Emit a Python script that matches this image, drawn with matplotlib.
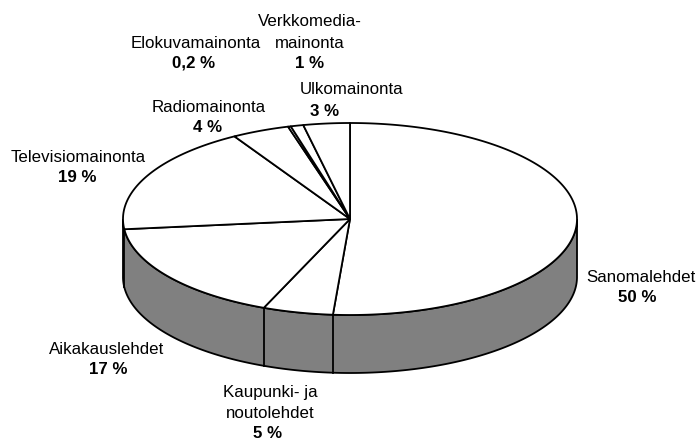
import numpy as np
import matplotlib
matplotlib.use("Agg")
import matplotlib.pyplot as plt
from matplotlib.patches import Polygon

# Data (shares; label text as printed)
categories = ["Sanomalehdet", "Kaupunki- ja\nnoutolehdet", "Aikakauslehdet",
              "Televisiomainonta", "Radiomainonta", "Elokuvamainonta",
              "Verkkomedia-\nmainonta", "Ulkomainonta"]
shares = [51.2, 5.0, 17.1, 18.2, 4.1, 0.2, 0.9, 3.3]
pct_text = ["50 %", "5 %", "17 %", "19 %", "4 %", "0,2 %", "1 %", "3 %"]

# label anchor positions (pixel coordinates of label centre, first line)
label_pos = [(641, 277), (270, 393), (107, 350), (78, 157), (209, 108),
             (196, 43), (310, 22), (352, 90)]
pct_pos = [(637, 297), (268, 434), (108, 370), (77, 177), (208, 128),
           (194, 63), (310, 63), (325, 111)]
line_step = 21

W, H = 696, 440
fig = plt.figure(figsize=(W / 100, H / 100), dpi=100)
ax = fig.add_axes([0, 0, 1, 1])
ax.set_xlim(0, W)
ax.set_ylim(H, 0)
ax.axis("off")

cx, cy, rx, ry, depth = 350, 219, 227, 96, 58
lw = 1.3
side_col = "#808080"


def pt(theta_deg, dy=0.0):
    t = np.radians(theta_deg)
    return cx + rx * np.cos(t), cy - ry * np.sin(t) + dy


fr = np.array(shares) / np.sum(shares)
cum = np.concatenate([[0], np.cumsum(fr)])
thetas = 90 - 360 * cum  # clockwise from top

# side band (front half)
t = np.linspace(180, 360, 300)
xs, ys = pt(t)
xb, yb = pt(t[::-1], depth)
band = Polygon(np.column_stack([np.concatenate([xs, xb]), np.concatenate([ys, yb])]),
               closed=True, facecolor=side_col, edgecolor="black", lw=lw, zorder=1)
ax.add_patch(band)
for th in thetas:
    a = th % 360
    if 180 < a < 360:
        x0, y0 = pt(a)
        ax.plot([x0, x0], [y0, y0 + depth], color="black", lw=lw, zorder=2)

# top face wedges
for i in range(len(shares)):
    t = np.linspace(thetas[i], thetas[i + 1], max(3, int(abs(thetas[i + 1] - thetas[i]) * 2)))
    x, y = pt(t)
    poly = np.column_stack([np.concatenate([[cx], x]), np.concatenate([[cy], y])])
    ax.add_patch(Polygon(poly, closed=True, facecolor="white", edgecolor="black",
                         lw=lw, joinstyle="round", zorder=3))

font = "Liberation Sans"
for name, (lx, ly) in zip(categories, label_pos):
    for k, line in enumerate(name.split("\n")):
        ax.text(lx, ly + k * line_step, line, ha="center", va="center",
                fontsize=12.2, family=font, zorder=5)
for p, (px, py) in zip(pct_text, pct_pos):
    ax.text(px, py, p, ha="center", va="center", fontsize=12.2, family=font,
            fontweight="bold", zorder=5)

fig.savefig("out.png", dpi=100)
